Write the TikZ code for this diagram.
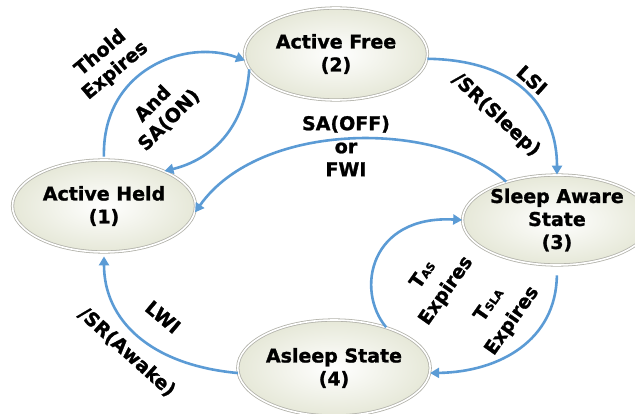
\documentclass[tikz,border=0pt]{standalone}
\usepackage{fontspec}
\setmainfont{DejaVu Sans}[BoldFeatures={FakeBold=1.2}]
\usetikzlibrary{arrows.meta,shapes.geometric}
\definecolor{arrowblue}{RGB}{91,155,213}
\definecolor{fillgrey}{RGB}{230,232,216}
\definecolor{rimgrey}{RGB}{178,178,170}

\tikzset{
  statenode/.style={draw=rimgrey, line width=0.8pt, double=white, double distance=1.6pt,
    ellipse, inner color=white, outer color=fillgrey, minimum width=183pt, minimum height=92pt,
    inner sep=0pt, align=center, font=\bfseries\fontsize{19}{23}\selectfont},
  trans/.style={draw=arrowblue, line width=2.6pt, -{Triangle[length=9pt,width=10pt]}},
  lbl/.style={inner sep=0pt, align=center, font=\bfseries\fontsize{19}{23}\selectfont}
}

\begin{document}
\begin{tikzpicture}[x=1pt,y=-1pt]
\useasboundingbox (0,0) rectangle (635,414);
\clip (0,0) rectangle (635,414);

\node[statenode] (free) at (336,54) {Active Free\\(2)};
\node[statenode] (held) at (104,206) {Active Held\\(1)};
\node[statenode, minimum width=185pt, minimum height=90pt] (aware) at (557,220) {Sleep Aware\\State\\(3)};
\node[statenode, minimum height=96pt] (asleep) at (334,368) {Asleep State\\(4)};

\draw[trans, shorten <=3pt] (held.north) .. controls (102,70) and (185,38) .. (free.184);
\draw[trans] (free.190) .. controls (245,130) and (210,160) .. (held.30);
\draw[trans] (aware.143) .. controls (440,120) and (260,120) .. (held.-4);
\draw[trans] (free.-3) .. controls (520,60) and (557,110) .. (aware.north);
\draw[trans] (asleep.38) .. controls (355,290) and (370,215) .. (aware.180);
\draw[trans, shorten <=10pt] (aware.south) .. controls (556,340) and (500,372) .. (asleep.-3);
\draw[trans, shorten >=4pt] (asleep.183) .. controls (150,365) and (104,320) .. (held.south);

\node[lbl, rotate=40] (thold) at (108,62) {Thold\\Expires};
\node[lbl, rotate=45] (andon) at (161,112) {And\\SA(ON)};
\node[lbl] (saoff) at (346,146) {SA(OFF)\\or\\FWI};
\node[lbl, rotate=-42] (lsi) at (532,80) {LSI};
\node[lbl, rotate=-43] (srsleep) at (496,115) {/SR(Sleep)};
\node[lbl, rotate=55] (tas) at (435,283) {T{\fontsize{11}{11}\selectfont AS}\\[5pt]Expires};
\node[lbl, rotate=55] (tsla) at (501,313) {T{\fontsize{11}{11}\selectfont SLA}\\[5pt]Expires};
\node[lbl, rotate=-40] (lwi) at (163,317) {LWI};
\node[lbl, rotate=-42] (srawake) at (127,352) {/SR(Awake)};
\end{tikzpicture}
\end{document}
